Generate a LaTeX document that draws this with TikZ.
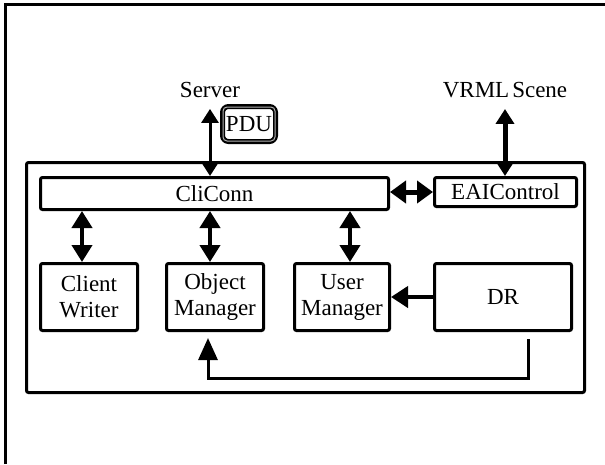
\documentclass[tikz,border=0pt]{standalone}
\usepackage{fontspec}
\setmainfont{Liberation Serif}
\usetikzlibrary{arrows.meta}
\tikzset{
  lbl/.style={font=\fontsize{23}{26}\selectfont, inner sep=0pt, align=center},
  blk/.style={draw, line width=3pt, rounded corners=2pt, font=\fontsize{23}{26}\selectfont,
    align=center, inner sep=0pt, minimum height=67pt},
  dbl/.style={{Triangle[width=20pt,length=17pt]}-{Triangle[width=20pt,length=17pt]}, line width=4pt},
  one/.style={-{Triangle[width=21pt,length=17pt]}, line width=4pt},
  pdubox/.style={draw, line width=5pt, rounded corners=6pt, font=\fontsize{23}{26}\selectfont,
    inner sep=0pt, minimum width=53pt, minimum height=35pt}
}
\begin{document}
\begin{tikzpicture}[x=1pt,y=-1pt]
\useasboundingbox (0,0) rectangle (605,464);
% page frame (top and left edges)
\draw[line width=3pt] (5.5,464) -- (5.5,4.5) -- (605,4.5);
% container
\draw[line width=3pt, rounded corners=2pt] (26.5,162.5) rectangle (584.5,392.5);
% blocks
\node[blk, minimum width=348pt, minimum height=32pt] (cliconn) at (214.5,193.5) {CliConn};
\node[blk, minimum width=142pt, minimum height=29pt] (eai) at (505.5,192) {EAIControl};
\node[blk, minimum width=97pt] (cw) at (89,297) {Client\\Writer};
\node[blk, minimum width=97pt] (om) at (215,297) {Object\\Manager};
\node[blk, minimum width=95pt] (um) at (342,297) {User\\Manager};
\node[blk, minimum width=137pt] (dr) at (503,297) {DR};
% external labels
\node[lbl] (server) at (210,90) {Server};
\node[lbl] (vrml) at (505,90) {VRML\hspace{3pt}Scene};
\node[pdubox] (pdu) at (249,124) {PDU};
\draw[gray!60, line width=1pt, rounded corners=4pt]
  ([shift={(3pt,-3pt)}]pdu.north west) rectangle ([shift={(-3pt,3pt)}]pdu.south east);
% connectors
\draw[{Triangle[width=17pt,length=14pt]}-{Triangle[width=17pt,length=14pt]}, line width=3pt]
  ([yshift=-11pt]server.south) -- (server.south |- cliconn.north);
\draw[{Triangle[width=18pt,length=15pt]}-{Triangle[width=18pt,length=15pt]}, line width=5pt]
  ([yshift=-11pt]vrml.south) -- (vrml.south |- eai.north);
\draw[{Triangle[width=22pt,length=16pt]}-{Triangle[width=22pt,length=16pt]}, line width=5pt]
  ([yshift=1.5pt]cliconn.east) -- ([yshift=1.5pt]cliconn.east -| eai.west);
\draw[dbl] ([xshift=-7pt]cw.north |- cliconn.south) -- ([xshift=-7pt]cw.north);
\draw[dbl] ([xshift=-5pt]om.north |- cliconn.south) -- ([xshift=-5pt]om.north);
\draw[dbl] ([xshift=8pt]um.north |- cliconn.south) -- ([xshift=8pt]um.north);
\draw[one] (dr.west) -- (um.east);
\draw[-{Triangle[width=19pt,length=22pt]}, line width=3pt]
  ([xshift=25pt,yshift=-7pt]dr.south) -- ++(0,39) -| ([xshift=-7pt,yshift=-6pt]om.south);
\end{tikzpicture}
\end{document}
